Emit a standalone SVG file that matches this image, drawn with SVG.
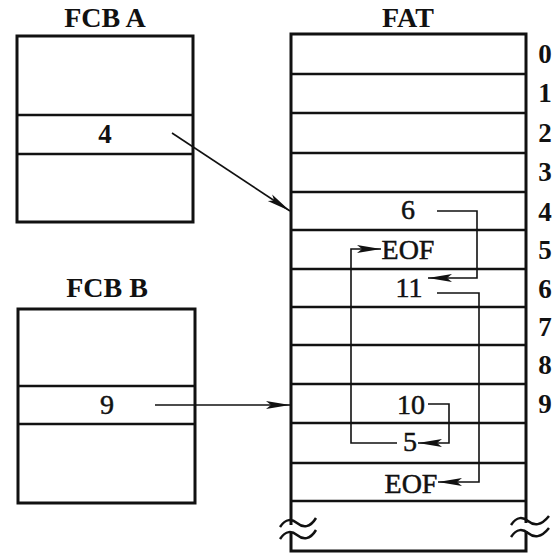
<svg xmlns="http://www.w3.org/2000/svg" width="556" height="557" viewBox="0 0 556 557">
<style>
.box{fill:#fff;stroke:#111;stroke-width:3}
.sep{stroke:#111;stroke-width:2.5;fill:none}
.hdr{font-family:"Liberation Serif","Times New Roman",serif;font-weight:bold;font-size:28px;fill:#111;text-anchor:middle}
.idx{font-family:"Liberation Serif","Times New Roman",serif;font-weight:bold;font-size:27px;fill:#111;text-anchor:middle}
.val{font-family:"Liberation Serif","Times New Roman",serif;font-size:28px;fill:#111;stroke:#111;stroke-width:0.5;text-anchor:middle}
.conn{stroke:#111;stroke-width:1.6;fill:none}
.wave{stroke:#111;stroke-width:2.5;fill:none}
</style>
<defs>
<marker id="ah" markerUnits="userSpaceOnUse" markerWidth="26" markerHeight="9" refX="24" refY="4.5" orient="auto">
<polygon points="0,0.5 24,4.5 0,8.5 5,4.5" fill="#111"/>
</marker>
</defs>
<rect width="556" height="557" fill="#fff"/>

<g id="fcbA">
<text class="hdr" x="105" y="27">FCB A</text>
<rect class="box" x="17" y="36" width="176" height="186"/>
<line class="sep" x1="17" y1="115" x2="193" y2="115"/>
<line class="sep" x1="17" y1="154" x2="193" y2="154"/>
<text class="idx" x="105" y="143">4</text>
</g>

<g id="fcbB">
<text class="hdr" x="107" y="297">FCB B</text>
<rect class="box" x="18" y="309" width="177" height="194"/>
<line class="sep" x1="18" y1="386" x2="195" y2="386"/>
<line class="sep" x1="18" y1="424" x2="195" y2="424"/>
<text class="val" x="107" y="414">9</text>
</g>

<g id="fat">
<text class="hdr" x="408" y="27">FAT</text>
<rect class="box" x="291" y="34" width="235" height="517"/>
<g class="sep">
<line x1="291" y1="74" x2="526" y2="74"/>
<line x1="291" y1="113" x2="526" y2="113"/>
<line x1="291" y1="153" x2="526" y2="153"/>
<line x1="291" y1="192" x2="526" y2="192"/>
<line x1="291" y1="230" x2="526" y2="230"/>
<line x1="291" y1="269" x2="526" y2="269"/>
<line x1="291" y1="307" x2="526" y2="307"/>
<line x1="291" y1="345" x2="526" y2="345"/>
<line x1="291" y1="384" x2="526" y2="384"/>
<line x1="291" y1="423" x2="526" y2="423"/>
<line x1="291" y1="463" x2="526" y2="463"/>
<line x1="291" y1="501" x2="526" y2="501"/>
</g>
<g class="idx">
<text x="545" y="63">0</text>
<text x="545" y="102">1</text>
<text x="545" y="142">2</text>
<text x="545" y="181">3</text>
<text x="545" y="221">4</text>
<text x="545" y="259">5</text>
<text x="545" y="298">6</text>
<text x="545" y="336">7</text>
<text x="545" y="374">8</text>
<text x="545" y="413">9</text>
</g>
<g class="val">
<text x="408" y="219">6</text>
<text x="408" y="259">EOF</text>
<text x="409" y="297">11</text>
<text x="411" y="414">10</text>
<text x="410" y="451">5</text>
<text x="411" y="493">EOF</text>
</g>
<rect x="286" y="525" width="10" height="8" fill="#fff"/>
<rect x="521" y="523" width="10" height="8" fill="#fff"/>
<path class="wave" d="M280,527 C286,518 292,519 297,523 C303,528 310,528 316,518"/>
<path class="wave" d="M280,539 C286,530 292,531 297,535 C303,540 310,540 316,530"/>
<path class="wave" d="M511,525 C517,516 523,517 528,521 C534,526 541,526 549,516"/>
<path class="wave" d="M511,537 C517,528 523,529 528,533 C534,538 541,538 549,528"/>
</g>

<g id="connectors">
<line class="conn" x1="172" y1="133" x2="290" y2="211" marker-end="url(#ah)"/>
<line class="conn" x1="155" y1="405" x2="290" y2="405" marker-end="url(#ah)"/>
<polyline class="conn" points="437,211 477,211 477,278 428,278" marker-end="url(#ah)"/>
<polyline class="conn" points="437,293 479,293 479,482 438,482" marker-end="url(#ah)"/>
<polyline class="conn" points="428,404 449,404 449,443 418,443" marker-end="url(#ah)"/>
<polyline class="conn" points="397,443 351,443 351,249 381,249" marker-end="url(#ah)"/>
</g>
</svg>
